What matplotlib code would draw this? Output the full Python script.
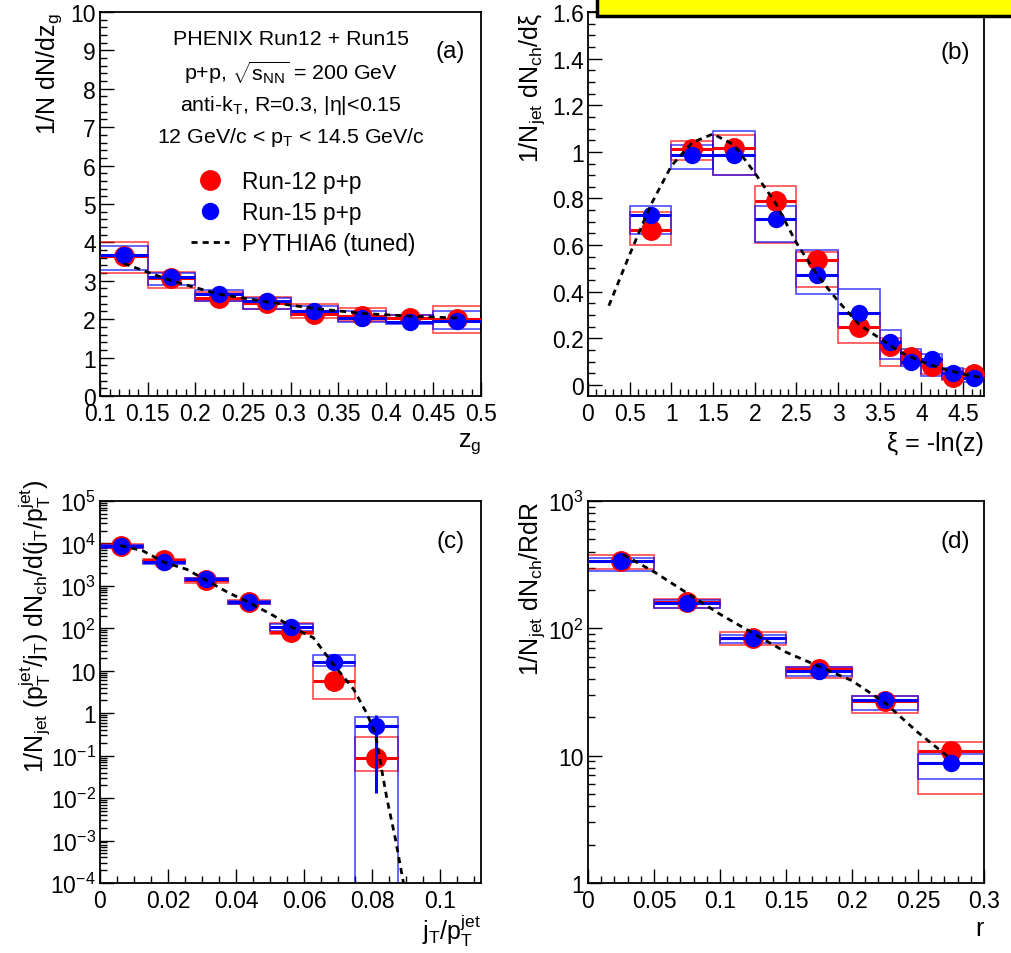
import numpy as np
import matplotlib
matplotlib.use("Agg")
import matplotlib.pyplot as plt
from matplotlib.lines import Line2D
from matplotlib.patches import Rectangle
from matplotlib.ticker import MultipleLocator, LogLocator, FuncFormatter, NullFormatter

plt.rcParams['font.family'] = ['Liberation Sans', 'DejaVu Sans']
plt.rcParams['mathtext.fontset'] = 'custom'
plt.rcParams['mathtext.rm'] = 'Liberation Sans'
plt.rcParams['mathtext.it'] = 'Liberation Sans'
plt.rcParams['mathtext.bf'] = 'Liberation Sans:bold'
plt.rcParams['mathtext.default'] = 'regular'

# (a) groomed momentum fraction z_g
zg_edges = [0.1, 0.15, 0.2, 0.25, 0.3, 0.35, 0.4, 0.45, 0.5]
run12_zg = [3.65, 3.06, 2.54, 2.43, 2.13, 2.09, 2.02, 2.00]
run12_zg_lo = [3.20, 2.82, 2.48, 2.26, 2.04, 1.95, 1.92, 1.65]
run12_zg_hi = [4.00, 3.23, 2.72, 2.58, 2.39, 2.28, 2.12, 2.33]
run15_zg = [3.67, 3.09, 2.66, 2.48, 2.22, 2.04, 1.93, 1.96]
run15_zg_lo = [3.29, 2.90, 2.47, 2.26, 2.10, 1.93, 1.87, 1.75]
run15_zg_hi = [3.90, 3.20, 2.77, 2.55, 2.35, 2.20, 2.10, 2.22]
pythia_zg_x = [0.125, 0.175, 0.225, 0.275, 0.325, 0.375, 0.425, 0.475]
pythia_zg_y = [3.45, 3.00, 2.65, 2.45, 2.28, 2.15, 2.08, 2.03]

# (b) xi = -ln(z)
xi_edges = [0.5, 1.0, 1.5, 2.0, 2.5, 3.0, 3.5, 3.75, 4.0, 4.25, 4.5, 4.75]
run12_xi = [0.665, 1.013, 1.016, 0.79, 0.537, 0.248, 0.169, 0.119, 0.08, 0.033, 0.047]
run12_xi_lo = [0.60, 0.963, 0.90, 0.608, 0.42, 0.18, 0.083, 0.09, 0.047, 0.02, 0.03]
run12_xi_hi = [0.74, 1.045, 1.073, 0.853, 0.57, 0.31, 0.20, 0.14, 0.112, 0.06, 0.07]
run15_xi = [0.73, 0.988, 0.985, 0.713, 0.47, 0.307, 0.183, 0.097, 0.112, 0.05, 0.029]
run15_xi_lo = [0.648, 0.925, 0.899, 0.612, 0.39, 0.248, 0.112, 0.083, 0.04, 0.025, 0.015]
run15_xi_hi = [0.767, 1.028, 1.088, 0.767, 0.58, 0.41, 0.236, 0.155, 0.133, 0.075, 0.045]
pythia_xi_x = [0.25, 0.5, 0.75, 1.0, 1.25, 1.5, 1.75, 2.0, 2.25, 2.5, 2.75, 3.0,
               3.25, 3.5, 3.75, 4.0, 4.25, 4.5, 4.7]
pythia_xi_y = [0.34, 0.56, 0.77, 0.94, 1.04, 1.077, 1.03, 0.91, 0.78, 0.61, 0.47, 0.36,
               0.26, 0.20, 0.14, 0.10, 0.07, 0.047, 0.033]

# (c) j_T / p_T^jet
jt_edges = [0.0, 0.0125, 0.025, 0.0375, 0.05, 0.0625, 0.075, 0.0875]
run12_jt = [8700, 4000, 1360, 420, 82, 5.6, 0.09]
run12_jt_lo = [7800, 3500, 1200, 370, 73, 2.16, 0.044]
run12_jt_hi = [9500, 4400, 1500, 470, 130, 15.7, 0.27]
run15_jt = [8700, 3600, 1430, 410, 107, 16, 0.49]
run15_jt_lo = [7900, 3300, 1300, 370, 87, 13, 1e-5]
run15_jt_hi = [9300, 3900, 1550, 450, 128, 24, 0.83]
run15_jt_stat_dn = [0, 0, 0, 0, 0, 0, 0.477]
run15_jt_stat_up = [0, 0, 0, 0, 0, 0, 0.41]
pythia_jt_x = [0.006, 0.0125, 0.019, 0.0255, 0.0315, 0.0375, 0.044, 0.051, 0.0565,
               0.0627, 0.0686, 0.0745, 0.0784, 0.081, 0.0824, 0.0843, 0.0868, 0.0892]
pythia_jt_logy = [3.95, 3.83, 3.55, 3.39, 3.12, 2.85, 2.6, 2.3, 2.02,
                  1.78, 1.15, 0.57, 0.0, -0.5, -1.15, -2.0, -2.95, -4.0]

# (d) radial profile r
r_edges = [0.0, 0.05, 0.1, 0.15, 0.2, 0.25, 0.3]
run12_r = [340, 161, 84.5, 47.7, 26.9, 10.9]
run12_r_lo = [290, 145, 74, 41, 21.5, 5.0]
run12_r_hi = [375, 170, 93, 50, 29.3, 12.9]
run15_r = [335, 157, 84, 46.3, 27.3, 8.7]
run15_r_lo = [280, 145, 76, 42, 23, 6.6]
run15_r_hi = [355, 168, 88, 50, 29.3, 10.3]
pythia_r_x = [0.0265, 0.05, 0.1, 0.15, 0.2, 0.225, 0.25, 0.275]
pythia_r_y = [380, 278, 129, 65, 38.8, 26, 15.2, 9.4]

RED = (1, 0, 0)
BLUE = (0, 0, 1)
LABEL_FS = 18
TICK_FS = 16.5


def draw_panel(ax, edges, r12, r12lo, r12hi, r15, r15lo, r15hi, px, py, yerr15=None):
    edges = np.array(edges)
    c = (edges[:-1] + edges[1:]) / 2
    w = np.diff(edges)
    ax.bar(c, np.array(r12hi) - np.array(r12lo), bottom=r12lo, width=w, fill=False,
           edgecolor=RED + (0.7,), lw=1.2, zorder=2)
    ax.bar(c, np.array(r15hi) - np.array(r15lo), bottom=r15lo, width=w, fill=False,
           edgecolor=BLUE + (0.7,), lw=1.2, zorder=2)
    ax.errorbar(c, r12, xerr=w / 2, fmt='o', color=RED, ms=14, elinewidth=2.2,
                capsize=0, zorder=3)
    ax.errorbar(c, r15, xerr=w / 2, yerr=yerr15, fmt='o', color=BLUE, ms=11.5,
                elinewidth=2.2, capsize=0, zorder=4)
    ax.plot(px, py, color='black', ls=(0, (2.2, 1.8)), lw=2.0, zorder=5)


def style(ax, xmaj, xmin, ymaj=None, ymin=None, logy=False):
    ax.tick_params(which='both', direction='in', top=False, right=False,
                   labelsize=TICK_FS, width=1.0, pad=3)
    ax.tick_params(axis='x', which='major', pad=4)
    ax.tick_params(which='major', length=10)
    ax.tick_params(which='minor', length=5)
    ax.xaxis.set_major_locator(MultipleLocator(xmaj))
    ax.xaxis.set_minor_locator(MultipleLocator(xmin))
    ax.xaxis.set_major_formatter(FuncFormatter(lambda v, p: '%g' % round(v, 4)))
    if logy:
        ax.set_yscale('log')
        ax.yaxis.set_major_locator(LogLocator(base=10, numticks=20))
        ax.yaxis.set_minor_locator(LogLocator(base=10, subs=np.arange(2, 10), numticks=20))
        ax.yaxis.set_minor_formatter(NullFormatter())

        def logfmt(v, p):
            e = int(round(np.log10(v)))
            if e == 0:
                return '1'
            if e == 1:
                return '10'
            return '$10^{%d}$' % e
        ax.yaxis.set_major_formatter(FuncFormatter(logfmt))
    else:
        ax.yaxis.set_major_locator(MultipleLocator(ymaj))
        ax.yaxis.set_minor_locator(MultipleLocator(ymin))
        ax.yaxis.set_major_formatter(FuncFormatter(lambda v, p: '%g' % round(v, 4)))
    for s in ax.spines.values():
        s.set_linewidth(1.3)


fig = plt.figure(figsize=(10.11, 9.54), dpi=100)
axa = fig.add_axes([0.0989, 0.5839, 0.3769, 0.4025])
axb = fig.add_axes([0.5816, 0.5839, 0.3917, 0.4025])
axc = fig.add_axes([0.0989, 0.0734, 0.3769, 0.4004])
axd = fig.add_axes([0.5816, 0.0734, 0.3917, 0.4004])

# (a)
draw_panel(axa, zg_edges, run12_zg, run12_zg_lo, run12_zg_hi,
           run15_zg, run15_zg_lo, run15_zg_hi, pythia_zg_x, pythia_zg_y)
axa.set_xlim(0.1, 0.5)
axa.set_ylim(0, 10)
style(axa, 0.05, 0.01, 1, 0.2)
axa.set_xlabel('$z_g$', fontsize=LABEL_FS, loc='right')
axa.xaxis.set_label_coords(1.0, -0.09)
axa.set_ylabel('1/N dN/d$z_g$', fontsize=LABEL_FS, loc='top')
axa.yaxis.set_label_coords(-0.095, 1.0)
hdr = ['PHENIX Run12 + Run15', 'p+p, $\\sqrt{s_{NN}}$ = 200 GeV',
       'anti-k$_T$, R=0.3, |\u03b7|<0.15', '12 GeV/c < p$_T$ < 14.5 GeV/c']
for i, t in enumerate(hdr):
    axa.text(0.5, 0.93 - i * 0.085, t, transform=axa.transAxes, ha='center',
             va='center', fontsize=15.4)
handles = [Line2D([], [], marker='o', color=RED, ls='none', ms=14),
           Line2D([], [], marker='o', color=BLUE, ls='none', ms=11.5),
           Line2D([], [], color='black', ls=(0, (2.2, 1.8)), lw=2.0)]
axa.legend(handles, ['Run-12 p+p', 'Run-15 p+p', 'PYTHIA6 (tuned)'],
           loc='upper left', bbox_to_anchor=(0.238, 0.588), frameon=False,
           fontsize=16.4, handlelength=1.7, handletextpad=0.55, labelspacing=0.34,
           borderaxespad=0, borderpad=0)
axa.text(0.92, 0.898, '(a)', transform=axa.transAxes, ha='center', va='center', fontsize=17.5)

# (b)
draw_panel(axb, xi_edges, run12_xi, run12_xi_lo, run12_xi_hi,
           run15_xi, run15_xi_lo, run15_xi_hi, pythia_xi_x, pythia_xi_y)
axb.set_xlim(0, 4.75)
axb.set_ylim(-0.047, 1.6)
style(axb, 0.5, 0.1, 0.2, 0.05)
axb.set_xlabel('\u03be = -ln(z)', fontsize=LABEL_FS, loc='right')
axb.xaxis.set_label_coords(1.0, -0.09)
axb.set_ylabel('1/N$_{jet}$ dN$_{ch}$/d\u03be', fontsize=LABEL_FS, loc='top')
axb.yaxis.set_label_coords(-0.104, 1.0)
axb.text(0.927, 0.895, '(b)', transform=axb.transAxes, ha='center', va='center', fontsize=17.5)

# (c)
pythia_jt_y = [10 ** v for v in pythia_jt_logy]
draw_panel(axc, jt_edges, run12_jt, run12_jt_lo, run12_jt_hi,
           run15_jt, run15_jt_lo, run15_jt_hi, pythia_jt_x, pythia_jt_y,
           yerr15=[run15_jt_stat_dn, run15_jt_stat_up])
axc.set_xlim(0, 0.112)
axc.set_ylim(1e-4, 1e5)
style(axc, 0.02, 0.005, logy=True)
axc.set_xlabel('$j_T/p_T^{jet}$', fontsize=LABEL_FS, loc='right')
axc.xaxis.set_label_coords(1.0, -0.075)
axc.set_ylabel('1/N$_{jet}$ (p$_T^{jet}$/j$_T$) dN$_{ch}$/d(j$_T$/p$_T^{jet}$)',
               fontsize=LABEL_FS, loc='top')
axc.yaxis.set_label_coords(-0.123, 1.058)
axc.text(0.92, 0.895, '(c)', transform=axc.transAxes, ha='center', va='center', fontsize=17.5)

# (d)
draw_panel(axd, r_edges, run12_r, run12_r_lo, run12_r_hi,
           run15_r, run15_r_lo, run15_r_hi, pythia_r_x, pythia_r_y)
axd.set_xlim(0, 0.3)
axd.set_ylim(1, 1000)
style(axd, 0.05, 0.01, logy=True)
axd.set_xlabel('r', fontsize=LABEL_FS, loc='right')
axd.xaxis.set_label_coords(1.0, -0.087)
axd.set_ylabel('1/N$_{jet}$ dN$_{ch}$/RdR', fontsize=LABEL_FS, loc='top')
axd.yaxis.set_label_coords(-0.104, 1.0)
axd.text(0.927, 0.895, '(d)', transform=axd.transAxes, ha='center', va='center', fontsize=17.5)

# yellow banner at the top right, cut off by the frame
fig.add_artist(Rectangle((597 / 1011, 1 - 17 / 954), 0.5, 0.1, transform=fig.transFigure,
                         facecolor='#ffff00', edgecolor='black', lw=2.5, zorder=10))

fig.savefig('out.png', dpi=100)
